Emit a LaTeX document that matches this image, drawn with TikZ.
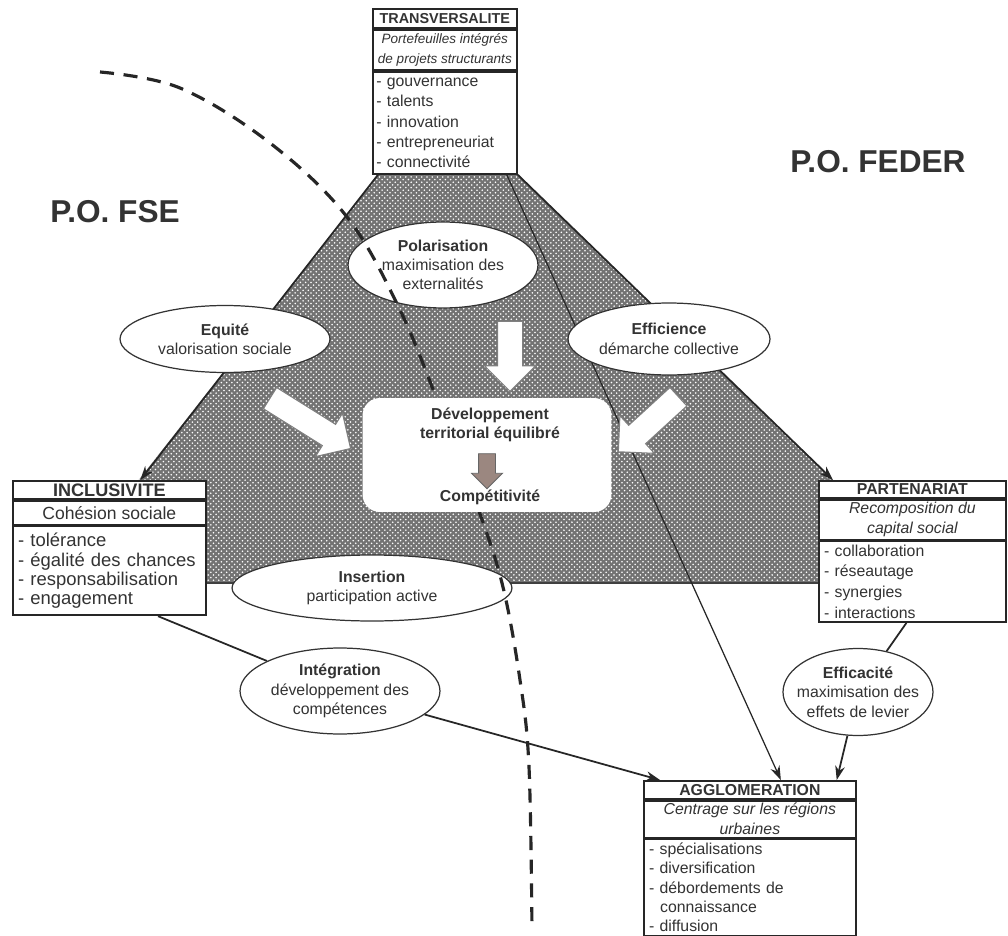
\documentclass[tikz,border=0pt]{standalone}
\usepackage{fontspec}
\setmainfont{Liberation Sans}
\usetikzlibrary{shapes.geometric, shapes.arrows, arrows.meta, positioning, calc, backgrounds, patterns}
\definecolor{brownarrow}{RGB}{155,135,128}

\begin{document}
\begin{tikzpicture}[
        x=0.02cm, y=-0.02cm,
        every node/.style={text=black!80, font=\fontsize{9}{11.5}\selectfont},
        boxhead/.style={rectangle, draw=black!85, line width=1pt, fill=white, align=center, inner xsep=1pt, inner ysep=1pt, minimum height=0.36cm, font=\fontsize{9}{11}\selectfont\bfseries},
        boxsub/.style={rectangle, draw=black!85, line width=1pt, fill=white, align=center, inner xsep=1pt, inner ysep=1.5pt, font=\fontsize{9}{11.3}\selectfont\itshape},
        boxitems/.style={rectangle, draw=black!85, line width=1pt, fill=white, align=left, inner xsep=3pt, inner ysep=2pt, font=\fontsize{9}{11.3}\selectfont},
        oval/.style={ellipse, draw=black!80, line width=0.7pt, fill=white, align=center, inner sep=0pt, font=\fontsize{9}{11}\selectfont},
        link/.style={black!85, line width=1pt},
        tip/.style={-{Stealth[length=8pt, width=5.5pt]}},
        blockarrow/.style={single arrow, draw=black!50, fill=white, line width=0.6pt, inner sep=0pt, inner ysep=0.24cm, single arrow head extend=0.26cm, single arrow tip angle=90},
        big/.style={font=\fontsize{18}{20}\selectfont\bfseries}
    ]
    \useasboundingbox (0,0) rectangle (1008,936);

    % Transversalite
    \node[boxhead, minimum width=2.88cm, minimum height=0.38cm, font=\fontsize{8.2}{10}\selectfont\bfseries, anchor=north west] (transH) at (372,8) {TRANSVERSALITE};
    \node[boxsub, minimum width=2.88cm, inner ysep=2.2pt, font=\fontsize{7.7}{11.5}\selectfont\itshape, below=0pt of transH] (transS) {Portefeuilles intégrés\\de projets structurants};
    \node[boxitems, text width=2.74cm, inner xsep=2pt, inner ysep=3.5pt, font=\fontsize{9}{11.5}\selectfont, below=0pt of transS] (transL) {- gouvernance\\- talents\\- innovation\\- entrepreneuriat\\- connectivité};

    % Inclusivite
    \node[boxhead, minimum width=3.86cm, minimum height=0.36cm, anchor=north west, font=\fontsize{10.3}{12}\selectfont\bfseries] (inclH) at (12,480) {INCLUSIVITE};
    \node[boxsub, minimum width=3.86cm, minimum height=0.48cm, font=\fontsize{10}{12}\selectfont, below=0pt of inclH] (inclS) {Cohésion sociale};
    \node[boxitems, text width=3.65cm, inner ysep=4pt, font=\fontsize{10.5}{10.9}\selectfont, below=0pt of inclS] (inclL) {- tolérance\\- égalité des chances\\- responsabilisation\\- engagement};

    % Partenariat
    \node[boxhead, minimum width=3.74cm, minimum height=0.34cm, anchor=north west] (partH) at (818,480) {PARTENARIAT};
    \node[boxsub, minimum width=3.74cm, below=0pt of partH] (partS) {Recomposition du\\capital social};
    \node[boxitems, text width=3.53cm, font=\fontsize{9}{11.8}\selectfont, below=0pt of partS] (partL) {- collaboration\\- réseautage\\- synergies\\- interactions};

    % Agglomeration
    \node[boxhead, minimum width=4.24cm, minimum height=0.36cm, anchor=north west] (aggloH) at (643,780) {AGGLOMERATION};
    \node[boxsub, minimum width=4.24cm, below=0pt of aggloH] (aggloS) {Centrage sur les régions\\urbaines};
    \node[boxitems, text width=4.03cm, font=\fontsize{9}{11}\selectfont, below=0pt of aggloS] (aggloL) {- spécialisations\\- diversification\\- débordements de\\\hspace*{0.7em}connaissance\\- diffusion};

    % Zones
    \node[big] (fse) at (115,212) {P.O. FSE};
    \node[big] (feder) at (878,162) {P.O. FEDER};

    % Ellipses
    \node[oval, minimum width=3.8cm, minimum height=1.72cm] (polar) at (443,265) {\textbf{Polarisation}\\maximisation des\\externalités};
    \node[oval, minimum width=4.2cm, minimum height=1.34cm] (equite) at (225,339) {\textbf{Equité}\\valorisation sociale};
    \node[oval, minimum width=4.04cm, minimum height=1.44cm] (effic) at (669,339) {\textbf{Efficience}\\démarche collective};
    \node[oval, minimum width=5.6cm, minimum height=1.32cm] (insert) at (372,588) {\textbf{Insertion}\\participation active};
    \node[oval, minimum width=4.0cm, minimum height=1.72cm] (integ) at (340,691) {\textbf{Intégration}\\développement des\\compétences};
    \node[oval, inner xsep=-0.17cm, minimum width=3.0cm, minimum height=1.74cm] (effica) at (858,692) {\textbf{Efficacité}\\maximisation des\\effets de levier};

    % Trapeze hachure et liens
    \coordinate (gl) at (58,583);
    \coordinate (gr) at (939,583);
    \begin{scope}[on background layer]
        \fill[white] (0,0) rectangle (1008,936);
        \fill[black!55] ([xshift=0.12cm]transL.south west) -- (transL.south east) -- (gr) -- (gl) -- cycle;
        \fill[pattern=crosshatch dots, pattern color=white] ([xshift=0.12cm]transL.south west) -- (transL.south east) -- (gr) -- (gl) -- cycle;
        \draw[black!75, line width=1pt] (gl) -- (gr);
        \draw[link, tip] ([xshift=0.12cm]transL.south west) -- ([xshift=0.62cm]inclH.north);
        \draw[link, tip] (transL.south east) -- ([xshift=0.3cm]partH.north west);
        \draw[black!85, line width=0.7pt, tip] ([xshift=-0.22cm]transL.south east) -- ([xshift=0.62cm]aggloH.north);
        \draw[link] ($(inclL.south)!0.5!(inclL.south east)$) -- (integ);
        \draw[link, tip] (integ) -- ([xshift=0.34cm]aggloH.north west);
        \draw[link] ([xshift=-0.12cm]partL.south) -- (effica);
        \draw[link, tip] (effica) -- ([xshift=-0.4cm]aggloH.north east);
    \end{scope}

    % Frontiere FSE / FEDER
    \draw[black!85, line width=1.8pt, dash pattern=on 8pt off 5.5pt] plot[smooth, tension=0.6] coordinates {(100,72) (180,88) (270,143) (347,217) (400,310) (441,410) (475,500) (502,583) (520,680) (529,767) (532,930)};

    % Centre
    \node[rectangle, rounded corners=0.35cm, fill=white, minimum width=4.98cm, minimum height=2.28cm] (core) at (487,455) {};
    \node[font=\fontsize{9}{11}\selectfont\bfseries, align=center] (devt) at (490,425) {Développement\\territorial équilibré};
    \node[font=\fontsize{9}{11}\selectfont\bfseries] (compet) at (490,497) {Compétitivité};
    \node[single arrow, fill=brownarrow, draw=black!60, line width=0.5pt, inner sep=0pt, inner ysep=0.16cm, single arrow head extend=0.14cm, single arrow tip angle=90, minimum height=0.7cm, rotate=-90] (shift) at (487,467) {};

    % Fleches blanches
    \node[blockarrow, minimum height=1.4cm, rotate=-90] (downarrow) at (510,350) {};
    \node[blockarrow, minimum height=1.9cm, rotate=-32] (leftarrow) at (305,420) {};
    \node[blockarrow, minimum height=1.63cm, rotate=-137.5] (rightarrow) at (653,420) {};
\end{tikzpicture}
\end{document}
